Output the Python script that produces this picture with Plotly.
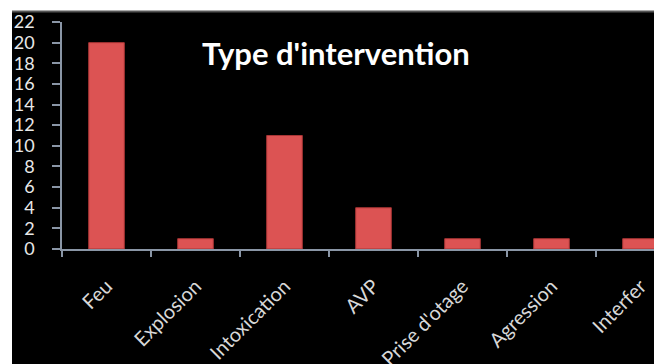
import plotly.graph_objects as go

categories = ["Feu", "Explosion", "Intoxication", "AVP", "Prise d'otage", "Agression", "Interfer"]
values = [20, 1, 11, 4, 1, 1, 1]
y_ticks = list(range(0, 23, 2))
title_text = "Type d'intervention"

W, H = 654, 364
ml, mr, mt, mb = 62, 0, 22, 115
pw, ph = W - ml - mr, H - mt - mb

def px_x(x):
    return (x - ml) / pw

def px_y(y):
    return 1 - (y - mt) / ph

fig = go.Figure()
fig.add_trace(go.Bar(
    x=categories, y=values, width=0.4,
    marker=dict(color="#dc5353", line=dict(color="#a83535", width=1)),
))

fig.update_layout(
    width=W, height=H,
    margin=dict(l=ml, r=mr, t=mt, b=mb, autoexpand=False),
    paper_bgcolor="white", plot_bgcolor="black",
    showlegend=False,
    font=dict(family="Lato, Open Sans, sans-serif", color="#e0e0e0"),
    shapes=[
        dict(type="rect", xref="paper", yref="paper", layer="below",
             x0=px_x(12), x1=px_x(W + 5), y0=px_y(H + 5), y1=px_y(11),
             fillcolor="black", line=dict(width=0)),
        dict(type="line", xref="paper", yref="paper",
             x0=px_x(12), x1=px_x(W + 5), y0=px_y(11.5), y1=px_y(11.5),
             line=dict(color="#555555", width=2)),
    ],
    annotations=[
        dict(text="<b>" + title_text + "</b>", xref="paper", yref="paper",
             x=px_x(336), y=px_y(53), xanchor="center", yanchor="middle",
             showarrow=False, font=dict(size=31, color="white", family="Lato, sans-serif")),
    ],
)

fig.update_xaxes(
    range=[-0.5, -0.5 + pw / 89.0], automargin=False,
    showline=True, linecolor="#8a96a6", linewidth=1.5,
    ticks="outside", tickson="boundaries", ticklen=6, tickcolor="#8a96a6", tickwidth=1.5,
    tickangle=-45, tickfont=dict(size=20, color="#d8d8d8"),
    ticklabelstandoff=16, showgrid=False, zeroline=False,
)
fig.update_yaxes(
    range=[0, 22], tickvals=y_ticks, automargin=False,
    showline=True, linecolor="#8a96a6", linewidth=1.5,
    ticks="outside", ticklen=8, tickcolor="#8a96a6", tickwidth=1.5,
    tickfont=dict(size=18, color="#e8e8e8"),
    ticklabelstandoff=14, showgrid=False, zeroline=False,
)

fig.write_html("out.html")
